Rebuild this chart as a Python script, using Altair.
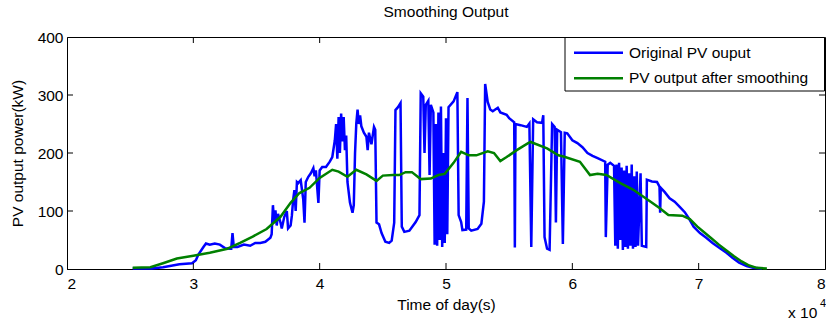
import altair as alt
import pandas as pd

# Original PV output (time in 10^4 s, power in kW)
blue_t = [2.52, 2.67, 2.76, 2.89, 2.99, 3.02, 3.04, 3.08, 3.10, 3.13, 3.17, 3.21, 3.25, 3.29, 3.30, 3.31, 3.32,
          3.35, 3.40, 3.45, 3.49, 3.53, 3.57, 3.61, 3.62, 3.63, 3.64, 3.65, 3.66, 3.67, 3.69, 3.70, 3.72, 3.74,
          3.75, 3.77, 3.78, 3.79, 3.80, 3.81, 3.82, 3.83, 3.85, 3.87, 3.88, 3.89, 3.91, 3.93, 3.95, 3.96, 3.97,
          3.99, 4.00, 4.02, 4.05, 4.08, 4.10, 4.12, 4.13, 4.14, 4.15, 4.16, 4.17, 4.18, 4.19, 4.20, 4.21, 4.22,
          4.24, 4.26, 4.27, 4.28, 4.29, 4.30, 4.31, 4.32, 4.33, 4.35, 4.37, 4.38, 4.39, 4.41, 4.43, 4.44, 4.45,
          4.47, 4.49, 4.52, 4.55, 4.57, 4.59, 4.60, 4.62, 4.64, 4.65, 4.67, 4.71, 4.76, 4.79, 4.80, 4.82, 4.83,
          4.84, 4.86, 4.87, 4.88, 4.90, 4.91, 4.92, 4.93, 4.94, 4.95, 4.96, 4.97, 4.98, 4.99, 5.00, 5.01, 5.02,
          5.06, 5.09, 5.10, 5.12, 5.13, 5.16, 5.17, 5.18, 5.20, 5.25, 5.28, 5.30, 5.31, 5.33, 5.35, 5.37, 5.41,
          5.43, 5.48, 5.50, 5.54, 5.545, 5.55, 5.59, 5.64, 5.66, 5.675, 5.69, 5.72, 5.76, 5.77, 5.78, 5.80, 5.82,
          5.84, 5.86, 5.87, 5.88, 5.91, 5.925, 5.94, 5.96, 6.00, 6.04, 6.08, 6.12, 6.16, 6.20, 6.26, 6.265, 6.28,
          6.30, 6.33, 6.34, 6.35, 6.36, 6.37, 6.38, 6.39, 6.40, 6.41, 6.42, 6.43, 6.44, 6.45, 6.46, 6.47, 6.48,
          6.49, 6.50, 6.51, 6.52, 6.54, 6.55, 6.585, 6.59, 6.63, 6.67, 6.69, 6.695, 6.70, 6.73, 6.77, 6.81, 6.85,
          6.89, 6.92, 6.96, 7.01, 7.06, 7.11, 7.16, 7.22, 7.27, 7.32, 7.38, 7.43, 7.50]
blue_v = [1, 1, 3, 8, 10, 15, 25, 38, 44, 42, 44, 42, 36, 35, 35, 62, 38,
          38, 42, 40, 45, 45, 47, 54, 60, 110, 80, 101, 75, 95, 80, 70, 90, 100,
          70, 75, 92, 119, 136, 100, 150, 148, 153, 120, 80, 150, 159, 165, 174, 160, 170,
          114, 170, 176, 176, 185, 193, 222, 250, 190, 262, 200, 268, 220, 262, 205, 230, 150,
          114, 97, 110, 200, 251, 275, 250, 265, 246, 235, 228, 205, 235, 215, 245, 240, 80,
          77, 62, 47, 45, 49, 80, 274, 279, 286, 73, 64, 66, 81, 93, 303, 297, 200,
          283, 290, 162, 283, 270, 42, 250, 40, 270, 50, 280, 38, 200, 45, 260, 60, 279,
          289, 305, 93, 81, 67, 68, 295, 70, 66, 69, 78, 116, 319, 288, 275, 272, 278,
          270, 266, 260, 253, 37, 250, 248, 245, 251, 38, 258, 253, 252, 265, 55, 35, 33,
          250, 245, 80, 240, 236, 43, 235, 234, 222, 217, 210, 200, 195, 191, 185, 55, 180,
          183, 178, 40, 180, 35, 183, 50, 175, 33, 170, 38, 178, 35, 165, 40, 180, 35,
          160, 38, 168, 40, 165, 40, 38, 154, 151, 150, 142, 97, 140, 133, 122, 116, 107,
          98, 88, 73, 62, 54, 45, 37, 28, 19, 11, 5, 2, 1]

# PV output after smoothing
green_t = [2.52, 2.66, 2.76, 2.87, 3.00, 3.13, 3.27, 3.37, 3.47, 3.58, 3.69, 3.77, 3.84, 3.92, 4.00, 4.10,
           4.15, 4.22, 4.29, 4.37, 4.45, 4.50, 4.58, 4.63, 4.68, 4.73, 4.80, 4.88, 4.94, 4.99, 5.06, 5.12,
           5.18, 5.24, 5.33, 5.38, 5.43, 5.48, 5.56, 5.65, 5.67, 5.80, 5.89, 5.93, 6.06, 6.14, 6.20, 6.27,
           6.38, 6.48, 6.60, 6.69, 6.76, 6.87, 6.93, 6.99, 7.05, 7.10, 7.16, 7.22, 7.28, 7.34, 7.40, 7.46, 7.54]
green_v = [2, 3, 10, 18, 23, 28, 35, 45, 56, 69, 90, 114, 131, 140, 157, 171,
           168, 159, 171, 163, 152, 161, 162, 162, 167, 167, 155, 156, 162, 164, 183, 202,
           196, 196, 203, 200, 186, 193, 205, 217, 219, 208, 196, 194, 185, 162, 164, 162,
           148, 137, 119, 105, 93, 92, 86, 73, 62, 53, 42, 32, 22, 13, 6, 2, 1]

series_names = ["Original PV ouput", "PV output after smoothing"]
series_colors = ["#0000FF", "#008000"]
x_label_values = [20000, 30000, 40000, 50000, 60000, 70000, 80000]
y_label_values = [0, 100, 200, 300, 400]
x_ticks = [30000, 40000, 50000, 60000, 70000]
y_ticks = [100, 200, 300]

W, H = 758, 232
FONT = "Liberation Sans"
FS = 15.5

rows = []
for i, (t, v) in enumerate(zip(blue_t, blue_v)):
    rows.append({"t": t * 10000, "v": v, "series": series_names[0], "order": i})
for i, (t, v) in enumerate(zip(green_t, green_v)):
    rows.append({"t": t * 10000, "v": v, "series": series_names[1], "order": i})
df = pd.DataFrame(rows)

xscale = alt.Scale(domain=[20000, 80000], nice=False)
yscale = alt.Scale(domain=[0, 400], nice=False)
cscale = alt.Scale(domain=series_names, range=series_colors)

x_axis = alt.Axis(values=x_label_values, labelExpr="datum.value / 10000", ticks=False, grid=False,
                  domainColor="black", labelPadding=7, titlePadding=6,
                  labelFont=FONT, labelFontSize=FS, labelColor="black",
                  titleFont=FONT, titleFontSize=FS, titleColor="black", titleFontWeight="normal")
y_axis = alt.Axis(values=y_label_values, ticks=False, grid=False,
                  domainColor="black", labelPadding=4, titlePadding=12,
                  labelFont=FONT, labelFontSize=FS, labelColor="black",
                  titleFont=FONT, titleFontSize=FS, titleColor="black", titleFontWeight="normal")
X_TITLE = "Time of day(s)"
Y_TITLE = "PV output power(kW)"

lines = alt.Chart(df).mark_line(strokeWidth=2.5).encode(
    x=alt.X("t:Q", scale=xscale, title=X_TITLE, axis=x_axis),
    y=alt.Y("v:Q", scale=yscale, title=Y_TITLE, axis=y_axis),
    color=alt.Color("series:N", scale=cscale, legend=None),
    order="order:Q",
)

xt = pd.DataFrame({"t": x_ticks})
yt = pd.DataFrame({"v": y_ticks})
tick_x_bottom = alt.Chart(xt).mark_rule(color="black", strokeWidth=1).encode(
    x=alt.X("t:Q", scale=xscale, title=X_TITLE, axis=x_axis), y=alt.value(H), y2=alt.value(H - 6))
tick_x_top = alt.Chart(xt).mark_rule(color="black", strokeWidth=1).encode(
    x=alt.X("t:Q", scale=xscale, title=X_TITLE, axis=x_axis), y=alt.value(0), y2=alt.value(6))
tick_y_left = alt.Chart(yt).mark_rule(color="black", strokeWidth=1).encode(
    y=alt.Y("v:Q", scale=yscale, title=Y_TITLE, axis=y_axis), x=alt.value(0), x2=alt.value(6))
tick_y_right = alt.Chart(yt).mark_rule(color="black", strokeWidth=1).encode(
    y=alt.Y("v:Q", scale=yscale, title=Y_TITLE, axis=y_axis), x=alt.value(W), x2=alt.value(W - 6))

# legend drawn as a box with sample lines and labels
leg_box_df = pd.DataFrame({"k": [1]})
leg_box = alt.Chart(leg_box_df).mark_rect(fill="white", stroke="black", strokeWidth=1).encode(
    x=alt.value(498), x2=alt.value(757.5), y=alt.value(0.5), y2=alt.value(54))
leg_row_y = [15.7, 41.3]
leg_layers = []
for name, yy in zip(series_names, leg_row_y):
    d = pd.DataFrame({"series": [name]})
    leg_layers.append(alt.Chart(d).mark_rule(strokeWidth=2.5).encode(
        x=alt.value(507), x2=alt.value(556), y=alt.value(yy),
        color=alt.Color("series:N", scale=cscale, legend=None)))
    leg_layers.append(alt.Chart(d).mark_text(align="left", baseline="middle", fontSize=FS,
                                             font=FONT, color="black").encode(
        x=alt.value(562), y=alt.value(yy), text="series:N"))

exp_df = pd.DataFrame({"txt": ["x 10"]})
exp_text = alt.Chart(exp_df).mark_text(align="left", baseline="alphabetic", fontSize=FS,
                                       font=FONT, color="black").encode(
    x=alt.value(721), y=alt.value(281), text="txt:N")
sup_df = pd.DataFrame({"txt": ["4"]})
sup_text = alt.Chart(sup_df).mark_text(align="left", baseline="alphabetic", fontSize=11,
                                       font=FONT, color="black").encode(
    x=alt.value(753), y=alt.value(270), text="txt:N")

chart = alt.layer(lines, tick_x_bottom, tick_x_top, tick_y_left, tick_y_right,
                  leg_box, *leg_layers, exp_text, sup_text).properties(
    width=W, height=H,
    title=alt.TitleParams("Smoothing Output", fontSize=FS, font=FONT, fontWeight="normal",
                          color="black", offset=10, anchor="middle"),
    autosize=alt.AutoSizeParams(type="none"),
    padding={"left": 67, "top": 37, "right": 1, "bottom": 52},
    background="white",
).configure_view(stroke="black", strokeWidth=1)

chart.save("out.html", embed_options={"renderer": "svg", "actions": False})
